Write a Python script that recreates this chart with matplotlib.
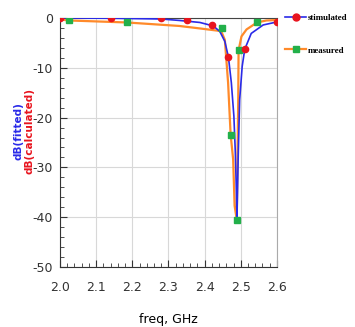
import matplotlib

matplotlib.use("Agg")
import matplotlib.pyplot as plt
from matplotlib.lines import Line2D
from matplotlib.ticker import MultipleLocator

# simulated (fitted) curve
sim_f = [2.0, 2.14, 2.28, 2.331, 2.387, 2.424, 2.442, 2.456, 2.466, 2.474, 2.481,
         2.485, 2.488, 2.4895, 2.491, 2.493, 2.497, 2.504, 2.511, 2.529, 2.562, 2.6]
sim_db = [0.0, -0.05, -0.2, -0.5, -0.9, -1.6, -2.7, -4.7, -7.9, -13.0, -19.7,
          -27.0, -35.0, -40.0, -35.0, -27.7, -16.4, -9.7, -6.3, -3.1, -1.4, -0.8]
sim_mk_f = [2.0, 2.14, 2.28, 2.35, 2.42, 2.466, 2.511, 2.6]
sim_mk_db = [0.0, 0.0, -0.1, -0.4, -1.5, -7.9, -6.3, -0.8]

# measured curve
meas_f = [2.0, 2.025, 2.185, 2.33, 2.387, 2.442, 2.448, 2.456, 2.465, 2.472, 2.479,
          2.483, 2.489, 2.493, 2.494, 2.502, 2.516, 2.545, 2.571, 2.6]
meas_db = [-0.3, -0.5, -0.9, -1.6, -2.1, -2.6, -3.0, -4.4, -13.0, -23.4, -28.4,
           -37.7, -40.5, -16.4, -6.5, -3.7, -2.3, -0.9, -0.5, -0.4]
meas_mk_f = [2.025, 2.185, 2.448, 2.472, 2.489, 2.494, 2.545]
meas_mk_db = [-0.5, -0.9, -2.1, -23.4, -40.5, -6.5, -0.9]

BLUE = "#2a2ae8"
RED = "#e8141e"
ORANGE = "#ff8a2a"
GREEN = "#22b04a"

fig = plt.figure(figsize=(3.55, 3.27), dpi=100)
ax = fig.add_axes([0.169, 0.1835, 0.611, 0.7615])

ax.plot(meas_f, meas_db, color=ORANGE, lw=1.6, zorder=3)
ax.plot(meas_mk_f, meas_mk_db, ls="none", marker="s", ms=4.5, color=GREEN, zorder=5)
ax.plot(sim_f, sim_db, color=BLUE, lw=1.2, zorder=4)
ax.plot(sim_mk_f, sim_mk_db, ls="none", marker="o", ms=4.5, color=RED, zorder=6)

ax.set_xlim(2.0, 2.6)
ax.set_ylim(-50, 0)
ax.xaxis.set_major_locator(MultipleLocator(0.1))
ax.xaxis.set_minor_locator(MultipleLocator(0.02))
ax.yaxis.set_major_locator(MultipleLocator(10))
ax.yaxis.set_minor_locator(MultipleLocator(2))
ax.grid(True, which="major", color="#d8d8d8", lw=0.8)
ax.tick_params(which="both", direction="in", top=False, right=False, colors="#333333",
               labelsize=9)
ax.tick_params(axis="x", which="major", length=5, pad=10)
ax.tick_params(axis="y", which="major", length=5, pad=5)
ax.tick_params(which="minor", length=3)
ax.xaxis.set_major_formatter(lambda v, p: f"{v:.1f}")
ax.yaxis.set_major_formatter(lambda v, p: f"{v:.0f}")
ax.spines["left"].set_color("#333333")
ax.spines["bottom"].set_color("#333333")
ax.spines["right"].set_color("#aaaaaa")
ax.spines["top"].set_color("#444444")

ax.set_xlabel("freq, GHz", fontsize=9, labelpad=14)
fig.text(0.052, 0.60, "dB(fitted)", rotation=90, color=BLUE, fontsize=7.5,
         weight="bold", ha="center", va="center")
fig.text(0.083, 0.60, "dB(calculated)", rotation=90, color=RED, fontsize=7.5,
         weight="bold", ha="center", va="center")

handles = [
    Line2D([], [], color=BLUE, lw=1.2, marker="o", ms=5, mfc=RED, mec=RED),
    Line2D([], [], color=ORANGE, lw=1.6, marker="s", ms=4.5, mfc=GREEN, mec=GREEN),
]
fig.legend(handles, ["stimulated", "measured"], loc="upper left",
           bbox_to_anchor=(0.795, 0.965), frameon=False, handlelength=2.4,
           handletextpad=0.2, labelspacing=2.7, borderaxespad=0, borderpad=0.3,
           prop={"family": "Liberation Serif", "weight": "bold", "size": 6.4})

fig.savefig("out.png", dpi=100)
